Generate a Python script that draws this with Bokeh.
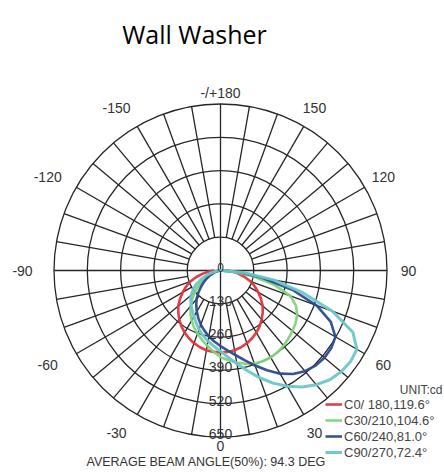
import math
from bokeh.plotting import figure
from bokeh.models import Label, Legend, LegendItem, ColumnDataSource
from bokeh.embed import file_html
from bokeh.resources import INLINE
from bokeh.core.properties import value

# ---------------- data ----------------
title_text = "Wall Washer"
footer_text = "AVERAGE BEAM ANGLE(50%): 94.3 DEG"
unit_text = "UNIT:cd"

gamma_deg = [-90, -85, -80, -75, -70, -65, -60, -55, -50, -45, -40, -35, -30, -25, -20, -15, -10, -5,
             0, 5, 10, 15, 20, 25, 30, 35, 40, 45, 50, 55, 60, 65, 70, 75, 80, 85, 90]

c0_cd = [25, 45, 70, 98, 125, 148, 170, 193, 215, 233, 250, 266, 280, 292, 302, 310, 316, 319,
         320, 319, 316, 310, 302, 292, 280, 266, 250, 233, 215, 193, 170, 148, 125, 98, 70, 45, 25]
c30_cd = [0, 5, 15, 25, 40, 58, 80, 105, 130, 155, 180, 205, 225, 245, 262, 280, 298, 318,
          338, 352, 365, 377, 386, 391, 392, 389, 383, 375, 367, 358, 346, 325, 290, 220, 130, 50, 0]
c60_cd = [0, 4, 10, 18, 30, 45, 62, 80, 100, 122, 145, 165, 185, 205, 225, 243, 262, 278,
          295, 313, 335, 362, 395, 430, 465, 493, 513, 525, 530, 528, 518, 475, 400, 290, 165, 70, 0]
c90_cd = [0, 8, 20, 38, 60, 85, 110, 130, 150, 165, 178, 192, 207, 225, 245, 263, 280, 297,
          315, 340, 370, 405, 445, 485, 522, 555, 582, 603, 615, 620, 615, 570, 465, 330, 210, 90, 0]

series_labels = ["C0/ 180,119.6\u00b0", "C30/210,104.6\u00b0", "C60/240,81.0\u00b0", "C90/270,72.4\u00b0"]
series_colors = ["#e0343c", "#7ed47a", "#2c4a8c", "#6cc6c8"]

ring_values = [130, 260, 390, 520, 650]
angle_ticks = [30, 60, 90, 120, 150, 180, -150, -120, -90, -60, -30]
angle_tick_labels = ["30", "60", "90", "120", "150", "-/+180", "-150", "-120", "-90", "-60", "-30"]
zero_tick_label = "0"

# ---------------- layout ----------------
W, H = 444, 472
CX, CY = 220, 270          # chart centre in canvas px (from top-left)
R_OUT_PX = 166.5
K = R_OUT_PX / max(ring_values)   # px per cd

p = figure(width=W, height=H, output_backend="svg", toolbar_location=None,
           x_range=(-CX / K, (W - CX) / K), y_range=(-(H - CY) / K, CY / K),
           x_axis_location=None, y_axis_location=None, min_border=0,
           outline_line_color=None, match_aspect=False)
p.grid.visible = False
p.background_fill_color = "white"

def polar(r, g):
    a = math.radians(g)
    return r * math.sin(a), -r * math.cos(a)

GRID = "#262626"
# rings
p.circle(x=[0] * len(ring_values), y=[0] * len(ring_values), radius=ring_values,
         fill_color=None, line_color=GRID, line_width=1.3)
# spokes
x0s, y0s, x1s, y1s = [], [], [], []
for a in range(0, 360, 10):
    r0 = 0 if a % 90 == 0 else ring_values[0]
    xa, ya = polar(r0, a)
    xb, yb = polar(ring_values[-1], a)
    x0s.append(xa); y0s.append(ya); x1s.append(xb); y1s.append(yb)
p.segment(x0=x0s, y0=y0s, x1=x1s, y1=y1s, line_color=GRID, line_width=1.3)

# curves
renderers = []
for vals, col, w in zip([c0_cd, c30_cd, c60_cd, c90_cd], series_colors, [2.6, 2.6, 2.6, 3.0]):
    xs = [polar(v, g)[0] for v, g in zip(vals, gamma_deg)]
    ys = [polar(v, g)[1] for v, g in zip(vals, gamma_deg)]
    renderers.append(p.line(xs, ys, line_color=col, line_width=w, line_alpha=0.95))

LABEL_FONT = value("Liberation Sans")
# ring labels
p.text(x=[0] * len(ring_values), y=[-v for v in ring_values], text=[str(v) for v in ring_values],
       text_font=LABEL_FONT, text_font_size="14px", text_color="#333333",
       text_align="center", text_baseline="bottom", y_offset=2)
p.text(x=[0], y=[0], text=["0"], text_font=LABEL_FONT, text_font_size="12px",
       text_color="#333333", text_align="center", text_baseline="bottom", y_offset=1)

# angle labels
lx, ly, lxo = [], [], []
for a in angle_ticks:
    rp = 178 if a % 180 == 0 else 188
    xx, yy = polar(rp / K, a)
    lx.append(xx); ly.append(yy)
    lxo.append(-10 if a < 0 else 0)
src = ColumnDataSource(dict(x=lx, y=ly, t=angle_tick_labels, xo=lxo))
p.text(x="x", y="y", text="t", x_offset="xo", source=src, text_font=LABEL_FONT,
       text_font_size="14px", text_color="#333333", text_align="center", text_baseline="middle")
p.add_layout(Label(x=CX, y=H - CY - R_OUT_PX - 4, x_units="screen", y_units="screen",
                   text=zero_tick_label, text_align="center", text_baseline="top",
                   text_font="Liberation Sans", text_font_size="14px", text_color="#333333"))

# legend
legend = Legend(items=[LegendItem(label=l, renderers=[r]) for l, r in zip(series_labels, renderers)],
                location=(325, H - 460), padding=0, margin=0, spacing=0,
                glyph_width=17, glyph_height=16, label_height=16, label_standoff=2,
                label_text_font="Liberation Sans", label_text_font_size="13px",
                label_text_color="#444444", border_line_color=None,
                background_fill_alpha=0)
p.add_layout(legend, "center")

p.add_layout(Label(x=442, y=H - 389, x_units="screen", y_units="screen", text=unit_text,
                   text_align="right", text_baseline="alphabetic", text_font="Liberation Sans",
                   text_font_size="12px", text_color="#444444"))
p.add_layout(Label(x=194, y=H - 33, x_units="screen", y_units="screen", text=title_text,
                   text_align="center", text_baseline="alphabetic", text_font="Open Sans",
                   text_font_size="25px", text_color="#000000"))
p.add_layout(Label(x=86, y=H - 461, x_units="screen", y_units="screen", text=footer_text,
                   text_align="left", text_baseline="alphabetic", text_font="Liberation Sans",
                   text_font_size="12.5px", text_color="#333333"))

open("out.html", "w").write(file_html(p, INLINE))
